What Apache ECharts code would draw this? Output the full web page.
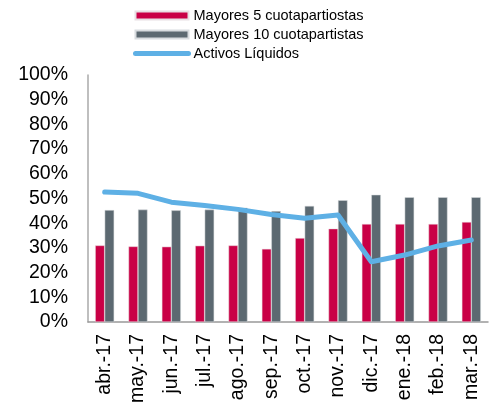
<!DOCTYPE html>
<html><head><meta charset="utf-8">
<script src="https://cdn.jsdelivr.net/npm/echarts@6/dist/echarts.min.js"></script>
<style>html,body{margin:0;padding:0;background:#fff}#c{width:489px;height:410px}</style>
</head><body><div id="c"></div>
<script>
const categories = ['abr.-17','may.-17','jun.-17','jul.-17','ago.-17','sep.-17','oct.-17','nov.-17','dic.-17','ene.-18','feb.-18','mar.-18'];
const top5 = [31.0, 30.6, 30.5, 30.9, 31.0, 29.6, 34.0, 37.8, 39.7, 39.7, 39.7, 40.5];
const top10 = [45.3, 45.5, 45.2, 45.5, 46.3, 44.9, 47.0, 49.3, 51.5, 50.5, 50.5, 50.5];
const activos = [52.6, 52.1, 48.5, 47.2, 45.6, 43.5, 42.0, 43.3, 24.4, 27.1, 30.8, 33.2];
const yTicks = [0, 10, 20, 30, 40, 50, 60, 70, 80, 90, 100];
const seriesNames = ['Mayores 5 cuotapartiostas', 'Mayores 10 cuotapartistas', 'Activos Líquidos'];

const chart = echarts.init(document.getElementById('c'));
const font = 'Liberation Sans, Arial, sans-serif';
chart.setOption({
  animation: false,
  textStyle: { fontFamily: font },
  legend: {
    orient: 'vertical', left: 133, top: 8, padding: 0,
    itemWidth: 53, itemHeight: 8, itemGap: 4,
    textStyle: { fontSize: 14.5, color: '#000', fontFamily: font },
    data: [
      { name: seriesNames[0], icon: 'rect' },
      { name: seriesNames[1], icon: 'rect' },
      { name: seriesNames[2], itemStyle: { opacity: 0 }, lineStyle: { width: 5, cap: 'round' } }
    ]
  },
  grid: { left: 88, right: 1, top: 75, bottom: 88, containLabel: false },
  xAxis: {
    type: 'category', data: categories,
    axisLine: { lineStyle: { color: '#999', width: 1.5 } },
    axisTick: { show: false },
    axisLabel: { rotate: 90, fontSize: 19.5, color: '#000', margin: 12, fontFamily: font }
  },
  yAxis: {
    type: 'value', min: yTicks[0], max: yTicks[yTicks.length - 1], interval: 10,
    axisLine: { show: true, lineStyle: { color: '#aaa', width: 1.5 } },
    axisTick: { show: false },
    splitLine: { show: false },
    axisLabel: { formatter: '{value}%', fontSize: 19.5, color: '#000', margin: 20, fontFamily: font }
  },
  series: [
    { name: seriesNames[0], type: 'bar', data: top5, barWidth: 9.5, barGap: '0%',
      itemStyle: { color: '#C90046', borderColor: '#e8dfe3', borderWidth: 0.5 } },
    { name: seriesNames[1], type: 'bar', data: top10, barWidth: 9.5,
      itemStyle: { color: '#5C6971', borderColor: '#d8dcdf', borderWidth: 0.5 } },
    { name: seriesNames[2], type: 'line', data: activos, symbol: 'none',
      lineStyle: { color: '#5EB0E5', width: 5, cap: 'round', join: 'round' },
      itemStyle: { color: '#5EB0E5' } }
  ]
});
</script></body></html>
